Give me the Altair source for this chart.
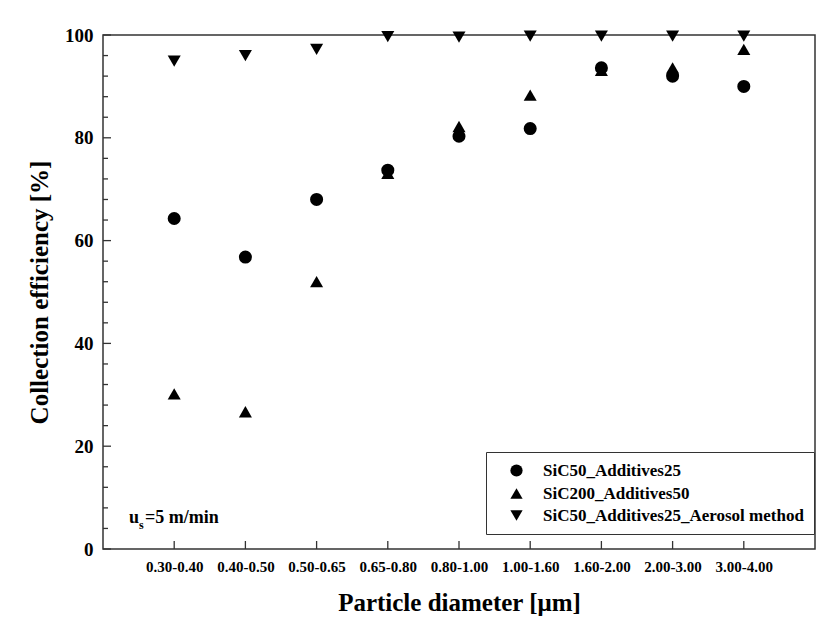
import altair as alt
import pandas as pd

categories = ["0.30-0.40", "0.40-0.50", "0.50-0.65", "0.65-0.80", "0.80-1.00",
              "1.00-1.60", "1.60-2.00", "2.00-3.00", "3.00-4.00"]
series_names = ["SiC50_Additives25", "SiC200_Additives50", "SiC50_Additives25_Aerosol method"]
sic50_add25 = [64.3, 56.8, 68.0, 73.7, 80.3, 81.8, 93.6, 92.0, 90.0]
sic200_add50 = [30.2, 26.7, 52.0, 73.1, 82.2, 88.3, 93.1, 93.6, 97.2]
sic50_aerosol = [94.9, 96.0, 97.2, 99.7, 99.6, 99.8, 99.8, 99.8, 99.8]
y_major = [0, 20, 40, 60, 80, 100]
y_minor = [v for v in range(0, 101, 4) if v % 20 != 0]

FONT = "Liberation Serif"

rows = []
for name, vals in zip(series_names, [sic50_add25, sic200_add50, sic50_aerosol]):
    for i, v in enumerate(vals):
        rows.append({"pos": i + 1, "cat": categories[i], "series": name, "value": v})
df = pd.DataFrame(rows)

label_expr = "[" + ",".join("'%s'" % c for c in categories) + "][datum.value - 1]"

x_scale = alt.Scale(domain=[0, 10], nice=False, zero=False)
y_scale = alt.Scale(domain=[0, 100], nice=False)

points = alt.Chart(df).mark_point(filled=True, color="black", size=170, opacity=1).encode(
    x=alt.X("pos:Q", scale=x_scale,
            axis=alt.Axis(values=list(range(1, 10)), labelExpr=label_expr, grid=False,
                          domain=False, ticks=False, labelPadding=10,
                          labelFont=FONT, labelFontSize=15, labelFontWeight="bold",
                          labelColor="black",
                          title="Particle diameter [μm]", titleFont=FONT, titleFontSize=25,
                          titleFontWeight="bold", titleColor="black", titlePadding=16)),
    y=alt.Y("value:Q", scale=y_scale,
            axis=alt.Axis(values=y_major, grid=False, domain=False, ticks=False,
                          labelPadding=10, labelFont=FONT, labelFontSize=19,
                          labelFontWeight="bold", labelColor="black",
                          title="Collection efficiency [%]", titleFont=FONT, titleFontSize=25,
                          titleFontWeight="bold", titleColor="black", titlePadding=12)),
    shape=alt.Shape("series:N",
                    scale=alt.Scale(domain=series_names,
                                    range=["circle", "triangle-up", "triangle-down"]),
                    legend=alt.Legend(title=None, orient="none", legendX=383, legendY=417,
                                      strokeColor="#333333", fillColor="white", padding=10,
                                      labelFont=FONT, labelFontSize=17, labelFontWeight="bold",
                                      labelColor="black", labelLimit=0, symbolFillColor="black",
                                      symbolStrokeColor="black", symbolSize=150,
                                      symbolOffset=12, labelOffset=18, rowPadding=4)),
)

ymaj_df = pd.DataFrame({"v": y_major})
ymin_df = pd.DataFrame({"v": y_minor})
xt_df = pd.DataFrame({"pos": list(range(1, 10))})

ymaj_ticks = alt.Chart(ymaj_df).mark_rule(color="#333333", strokeWidth=1.3).encode(
    y=alt.Y("v:Q", scale=y_scale), x=alt.value(0), x2=alt.value(8))
ymin_ticks = alt.Chart(ymin_df).mark_rule(color="#333333", strokeWidth=1.3).encode(
    y=alt.Y("v:Q", scale=y_scale), x=alt.value(0), x2=alt.value(5))
x_ticks = alt.Chart(xt_df).mark_rule(color="#333333", strokeWidth=1.3).encode(
    x=alt.X("pos:Q", scale=x_scale), y=alt.value(514), y2=alt.value(506))

ann_df = pd.DataFrame({"x": [0.365], "y": [5.0]})
ann_base = alt.Chart(ann_df).encode(x=alt.X("x:Q", scale=x_scale), y=alt.Y("y:Q", scale=y_scale))
ann_u = ann_base.mark_text(text="u", font=FONT, fontSize=18, fontWeight="bold",
                           align="left", baseline="alphabetic", color="black")
ann_s = ann_base.mark_text(text="s", font=FONT, fontSize=12, fontWeight="bold",
                           align="left", baseline="alphabetic", color="black", dx=10, dy=6)
ann_rest = ann_base.mark_text(text="=5 m/min", font=FONT, fontSize=18, fontWeight="bold",
                              align="left", baseline="alphabetic", color="black", dx=16)

chart = alt.layer(points, ymaj_ticks, ymin_ticks, x_ticks, ann_u, ann_s, ann_rest).properties(
    width=712, height=514,
    autosize=alt.AutoSizeParams(type="none"),
    padding={"left": 103, "top": 35, "right": 17, "bottom": 86},
).configure(background="white").configure_view(stroke="#333333", strokeWidth=1.5)

chart.save("out.html", embed_options={"renderer": "svg", "actions": False})
